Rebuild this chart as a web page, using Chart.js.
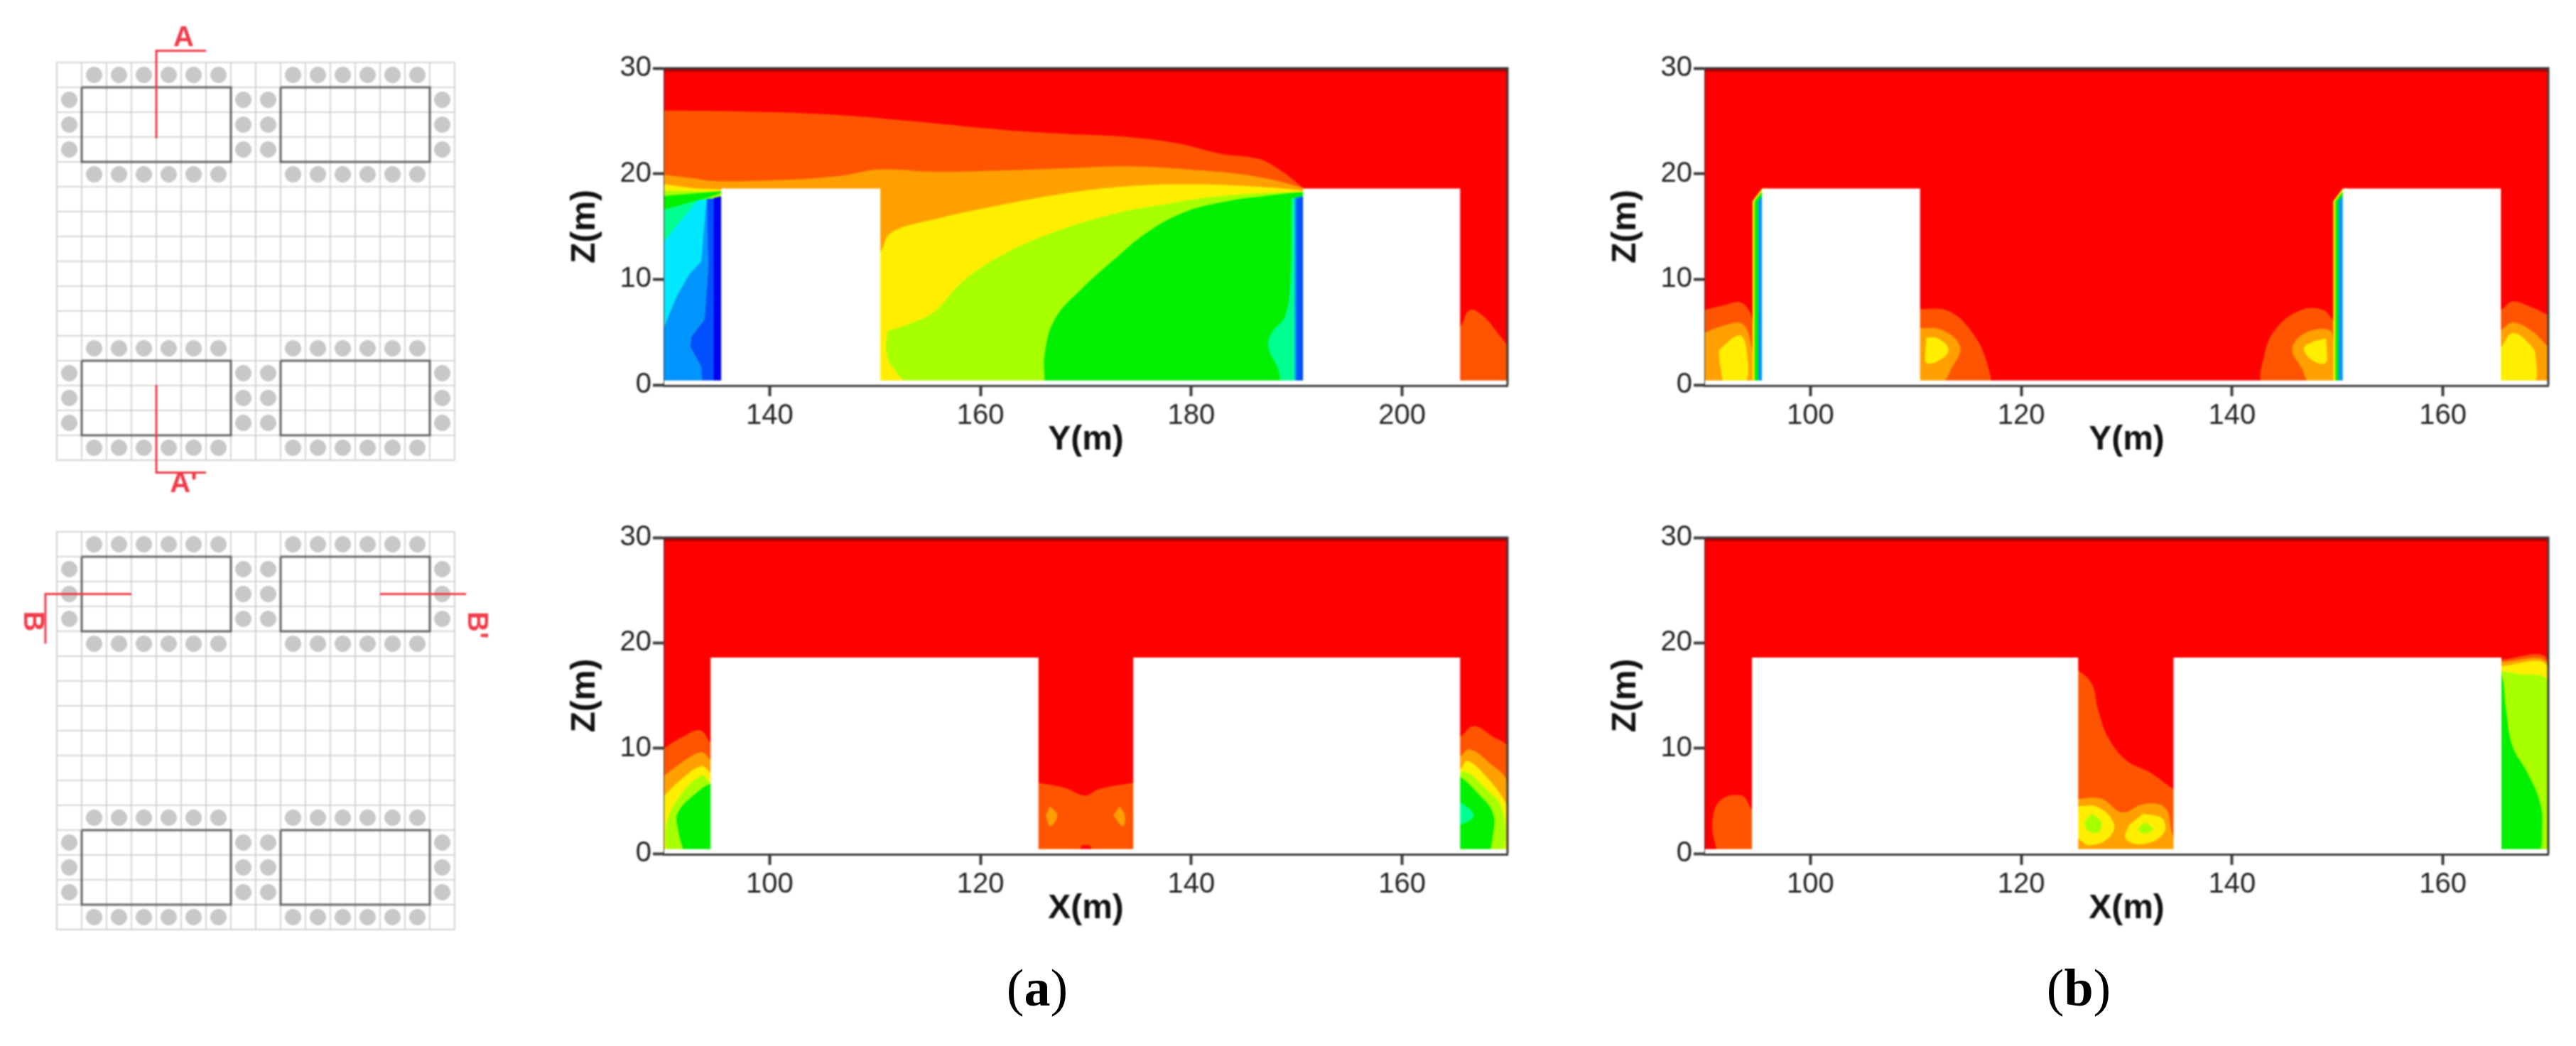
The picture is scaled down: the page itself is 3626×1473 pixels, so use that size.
<!DOCTYPE html>
<html>
<head>
<meta charset="utf-8">
<title>Section contours</title>
<script src="https://cdn.jsdelivr.net/npm/chart.js@4"></script>
<style>
  html, body { margin: 0; padding: 0; background: #fff; }
  body { position: relative; width: 3626px; height: 1473px; overflow: hidden; }
  canvas { position: absolute; filter: blur(1.1px); }
  .caption { position: absolute; top: 1349px; font: 74px "Liberation Serif", serif; color: #000; transform: translateX(-50%); filter: blur(0.6px); }
</style>
</head>
<body>
<canvas id="planA"></canvas>
<canvas id="planB"></canvas>
<canvas id="yA"></canvas>
<canvas id="yB"></canvas>
<canvas id="xA"></canvas>
<canvas id="xB"></canvas>
<div class="caption" style="left:1460px">(<b>a</b>)</div>
<div class="caption" style="left:2926px">(<b>b</b>)</div>
<script>
// contour colours, coolest to hottest
const DEEP = '#0000f0', BLUE = '#0050ff', SKY = '#0095ff', CYAN = '#00e8ff', MINT = '#00ff90';
const GREEN = '#00f000', LIME = '#a8ff00', YELLOW = '#ffee00', AMBER = '#ffa000', ORANGE = '#ff5500';
const RED = '#ff0000', DARKRED = '#b40000', WHITE = '#ffffff';

const ticksY = [140, 160, 180, 200];
const ticksX = [100, 120, 140, 160];
const ticksZ = [0, 10, 20, 30];

// ---- top left panel, Y section, values read as [y, z]
const yaOrange = [[130, 26], [137.6, 25.9], [146.1, 25.6], [153.3, 25], [161.7, 24.2], [167.7, 23.8], [173.8, 23.5], [178.6, 22.9], [182.8, 21.9], [186.4, 21.4], [188.5, 20.3], [189.7, 19.4], [190.5, 18.7], [190.8, 18.4], [191, 18], [191, 0], [130, 0]];
const yaAmber = [[130, 19.9], [132.5, 19.6], [134.6, 19.3], [140.7, 19.4], [146.7, 19.8], [150.3, 20.4], [155.7, 20.2], [161.7, 20.3], [167.7, 20.5], [173.8, 20.7], [179.8, 20.4], [185.8, 19.8], [190.5, 18.7], [190.8, 18.4], [191, 18], [191, 0], [130, 0]];
const yaYellowL = [[130, 19], [133, 18.6], [136, 18.5], [136, 0], [130, 0]];
const yaYellow = [[150, 12.6], [150.5, 12.6], [151.5, 14.4], [155.7, 15.7], [161.7, 17], [167.7, 18.1], [173.8, 18.8], [179.8, 19], [185.8, 18.8], [190.5, 18.4], [190.8, 18.2], [191, 17.8], [191, 0], [150, 0]];
const yaLimeL = [[130, 18.4], [136, 18.3], [136, 0], [130, 0]];
const yaLime = [[151.2, 5.1], [153.3, 5.8], [155.7, 7], [158.1, 9.6], [161.7, 12.1], [166.5, 14.3], [172.6, 16.2], [176.8, 17], [182.8, 17.9], [190.5, 18.3], [190.8, 18.2], [191, 17.8], [191, 0.2], [153.6, 0.2], [151.5, 1.9], [151, 3.6]];
const yaGreenL = [[130, 17.9], [136, 18.4], [134.2, 17.76], [130, 16.6]];
const yaGreen = [[166.1, 0], [166.1, 3], [167.1, 6.3], [169.6, 9.1], [172.6, 11.8], [175.6, 14.3], [179.2, 16.3], [183.4, 17.4], [187, 17.9], [190.5, 18.25], [190.8, 18.1], [191, 17.7], [191, 0]];
const yaMintL = [[130, 16.6], [133.2, 17.5], [134.4, 17.7], [134, 10], [130, 10], [130, 13.6]];
const yaCyanL = [[130, 13.6], [133.2, 17.5], [134.05, 17.5], [133.7, 14], [133.5, 11.7], [132.4, 10.5], [131.2, 8.4], [130, 5.5]];
const yaSkyL = [[130, 5.5], [131.2, 8.4], [132.4, 10.5], [133.5, 11.7], [133.7, 14], [134.05, 17.6], [134.4, 17.6], [134.2, 11.4], [133.8, 6.2], [132.6, 4.6], [132.5, 3.6], [133.5, 1.7], [133.7, 0], [130, 0]];
const yaBlueL = [[134.05, 17.6], [134.8, 17.6], [134.8, 0], [133.7, 0], [133.5, 1.7], [132.5, 3.6], [132.6, 4.6], [133.8, 6.2], [134.2, 11.4]];
const yaDeepL = [[134.7, 17.7], [136, 18], [136, 0], [134.7, 0]];
const yaMintR = [[189.5, 17.7], [189.4, 10], [188.9, 6.5], [187.6, 4.9], [187.3, 3.6], [188.2, 1.6], [188.8, 0], [191, 0], [191, 17.7]];
const yaSkyR = [[189.8, 17.7], [191, 18], [191, 0], [189.8, 0]];
const yaBlueR = [[190, 17.6], [191, 18], [191, 0], [190, 0]];
const yaBuildings = [[[135.4, 18.6], [150.5, 18.6], [150.5, 0], [135.4, 0]], [[190.6, 18.6], [205.5, 18.6], [205.5, 0], [190.6, 0]]];
const yaLobe = [[205, 5.5], [205.5, 5.5], [206.4, 7.1], [207.6, 6.6], [209, 5], [210, 3.4], [210, 0], [205, 0]];

// ---- top right panel, Y section
const ybWallYellow = [[[94.5, 17.4], [95.4, 18.6], [96, 18.6], [96, 0], [94.5, 0]], [[149.6, 17.4], [150.5, 18.6], [151, 18.6], [151, 0], [149.6, 0]]];
const ybWallGreen = [[[94.7, 17.4], [95.4, 18.3], [96, 18.3], [96, 0], [94.7, 0]], [[149.8, 17.4], [150.5, 18.3], [151, 18.3], [151, 0], [149.8, 0]]];
const ybWallSky = [[[95.05, 17.4], [95.4, 17.9], [96, 17.9], [96, 0], [95.05, 0]], [[150.1, 17.4], [150.5, 17.9], [151, 17.9], [151, 0], [150.1, 0]]];
const ybOrange = [
  [[90, 7.1], [91.6, 7.5], [93.5, 7.75], [94.5, 6], [94.6, 0], [90, 0]],
  [[110, 7.2], [110.4, 7.2], [113.1, 7], [115.4, 4.9], [116.8, 1.9], [116.8, 0], [110, 0]],
  [[149.7, 6], [148.6, 7.1], [146.6, 7.1], [144.3, 5.5], [143.1, 3], [143.1, 0], [149.7, 0]],
  [[165, 7.1], [165.5, 7.1], [166.6, 7.9], [168.3, 7.4], [169.8, 6.7], [170, 6.5], [170, 0], [165, 0]]
];
const ybAmber = [
  [[90, 4.95], [91.7, 5.6], [93.5, 5.8], [94.3, 4.1], [94.6, 0], [90, 0]],
  [[110, 5.4], [110.4, 5.4], [112.5, 5.2], [114.2, 3.6], [113.4, 1.6], [112.3, 0], [110, 0]],
  [[149.7, 4], [149.2, 5.2], [146.9, 4.9], [145.7, 3.4], [146.6, 1.6], [147.5, 0], [149.7, 0]],
  [[165, 5.2], [165.5, 5.2], [166.6, 5.9], [168.3, 5.2], [169.8, 3.8], [170, 3.5], [170, 0], [165, 0]]
];
const ybYellow = [
  [[91.3, 3.3], [93.2, 4.7], [93.9, 3.6], [93.8, 0], [92, 0], [91.4, 1.9]],
  [[111, 4.5], [112.1, 4.4], [113.1, 3.3], [112, 2.2], [111, 2.1], [110.9, 3.3]],
  [[148.9, 4.4], [147.5, 4], [146.8, 3.4], [147.8, 2.2], [148.9, 2.1], [149, 3.3]],
  [[165, 3.6], [165.5, 3.6], [166.6, 4.9], [168.3, 3.8], [168.8, 2.7], [168.5, 0], [165, 0]]
];
const ybBuildings = [[[95.4, 18.6], [110.4, 18.6], [110.4, 0], [95.4, 0]], [[150.5, 18.6], [165.5, 18.6], [165.5, 0], [150.5, 0]]];

// ---- bottom left panel, X section, values read as [x, z]
const xaOrange = [
  [[90, 10], [91.6, 11], [93.4, 11.7], [94.4, 10.5], [95, 10], [95, 0], [90, 0]],
  [[165, 11.1], [165.5, 11.1], [166.8, 12.1], [168.6, 11.1], [170, 10], [170, 0], [165, 0]],
  [[125, 6.7], [125.5, 6.7], [128.1, 6.2], [129.9, 5.5], [131.2, 6.1], [134.5, 6.7], [135, 6.7], [135, 0], [125, 0]]
];
const xaAmber = [
  [[90, 7.4], [91.6, 8.6], [93.5, 9.6], [94.4, 8.9], [95, 8.5], [95, 0], [90, 0]],
  [[165, 9.25], [165.5, 9.25], [166.4, 9.9], [168.3, 8.6], [170, 6.7], [170, 0], [165, 0]],
  [[126.6, 4.5], [127.3, 3.6], [126.6, 2.6], [126.2, 3.6]],
  [[133.2, 4.5], [133.7, 3.6], [133.5, 2.6], [132.6, 3.6]]
];
const xaYellow = [
  [[90, 5.5], [91.6, 7.05], [93.5, 8.3], [94.4, 7.7], [95, 7.3], [95, 0], [90, 0]],
  [[165, 8], [165.5, 8], [166.2, 8.8], [167.9, 7.4], [169.8, 4.9], [170, 4], [170, 0], [165, 0]]
];
const xaLime = [
  [[90.2, 0], [90.2, 2.7], [91.3, 5.2], [93.5, 7.4], [94.4, 6.7], [95, 6.3], [95, 0]],
  [[165, 7.05], [165.9, 7.8], [167.7, 6.4], [169.5, 4.2], [169.5, 0], [165, 0]]
];
const xaGreen = [
  [[91.9, 0], [91.3, 2.35], [91.3, 3.9], [93.1, 5.8], [94.4, 6.6], [95, 6.4], [95, 0]],
  [[165, 7.2], [165.6, 7.2], [167.1, 5.8], [168.6, 3.9], [168.6, 1.7], [168, 0], [165, 0]]
];
const xaMint = [[165, 4.9], [165.5, 4.9], [166.8, 3.6], [165.5, 2.7], [165, 2.7]];
const xaSpot = [[129.3, 0], [129.6, 0.8], [130.4, 0.8], [130.7, 0]];
const xaBuildings = [[[94.4, 18.6], [125.5, 18.6], [125.5, 0], [94.4, 0]], [[134.5, 18.6], [165.5, 18.6], [165.5, 0], [134.5, 0]]];

// ---- bottom right panel, X section
const xbOrange = [
  [[91.2, 0], [90.7, 2.7], [91.4, 5], [93.5, 5.5], [94.45, 4.2], [95, 4], [95, 0]],
  [[125, 17.4], [125.4, 17.4], [126.7, 16.1], [127.3, 13.6], [128.2, 11.1], [129.9, 8.9], [132.2, 7.7], [134.45, 6.1], [135, 5.8], [135, 0], [125, 0]],
  [[165, 18.4], [170, 18.2], [170, 0], [165, 0]]
];
const xbAmber = [
  [[125, 5.2], [125.4, 5.2], [127.6, 5.2], [129.6, 3.9], [131.6, 4.7], [133.6, 4.4], [134.2, 2.35], [134.45, 0], [125, 0]],
  [[165, 18.2], [170, 17.8], [170, 0], [165, 0]]
];
const xbYellow = [
  [[125, 4.5], [125.4, 4.5], [127.3, 4.4], [128.8, 2.8], [128.2, 1.4], [126.4, 0.8], [125.4, 1.4], [125, 1.4]],
  [[131.6, 3.8], [133.4, 3.3], [133.5, 1.9], [131.6, 0.9], [129.9, 1.4], [130.2, 2.7]],
  [[165, 17.8], [170, 17.55], [170, 0], [165, 0]]
];
const xbLime = [
  [[126.7, 3.8], [127.6, 3], [127.3, 2], [126.3, 2.2], [126, 3]],
  [[131.7, 3], [132.5, 2.35], [131.6, 1.9], [131, 2.35]],
  [[165, 17.4], [166.8, 17.1], [170, 16.2], [170, 0], [165, 0]]
];
const xbGreen = [[165, 17.1], [165.55, 17.1], [166, 13.6], [166.6, 10.2], [168, 7.7], [169.2, 4.9], [169.4, 2.35], [168.9, 0], [165, 0]];
const xbBuildings = [[[94.45, 18.6], [125.4, 18.6], [125.4, 0], [94.45, 0]], [[134.45, 18.6], [165.55, 18.6], [165.55, 0], [134.45, 0]]];

// ---- plan view, in grid cells
const planCells = 16;
const pillarRowX = [1.5, 2.5, 3.5, 4.5, 5.5, 6.5, 9.5, 10.5, 11.5, 12.5, 13.5, 14.5];
const pillarRowY = [0.5, 4.5, 11.5, 15.5];
const pillarColX = [0.5, 7.5, 8.5, 15.5];
const pillarColY = [1.5, 2.5, 3.5, 12.5, 13.5, 14.5];
const blocks = [
  [[1, 1], [7, 1], [7, 4], [1, 4], [1, 1]],
  [[9, 1], [15, 1], [15, 4], [9, 4], [9, 1]],
  [[1, 12], [7, 12], [7, 15], [1, 15], [1, 12]],
  [[9, 12], [15, 12], [15, 15], [9, 15], [9, 12]]
];
const cutA = [[[6, -0.47], [4, -0.47], [4, 3.05]], [[4, 12.97], [4, 16.5], [6, 16.5]]];
const cutB = [[[3, 2.5], [-0.46, 2.5], [-0.46, 4.5]], [[13, 2.5], [16.46, 2.5], [16.46, 4.5]]];
const labelsA = [['A', 5.1, -0.98, 0], ["A'", 5.1, 16.98, 0]];
const labelsB = [['B', -1, 3.6, 90], ["B'", 16.87, 3.75, 90]];

const pillars = [];
pillarRowY.forEach(y => pillarRowX.forEach(x => pillars.push({x, y})));
pillarColY.forEach(y => pillarColX.forEach(x => pillars.push({x, y})));

Chart.defaults.font.family = '"Liberation Sans", Arial, sans-serif';
Chart.defaults.animation = false;

const AXIS = '#3a3a3a';
const MARGIN = {left: 170, top: 40, right: 38, bottom: 120};

// top and right edges of the contour box
const framePlugin = {
    id: 'framePlugin',
    afterDraw(chart) {
        const {ctx, chartArea: {top, bottom, left, right}} = chart;
        ctx.save();
        ctx.strokeStyle = AXIS;
        ctx.lineWidth = 3;
        ctx.beginPath();
        ctx.moveTo(left, top);
        ctx.lineTo(right, top);
        ctx.lineTo(right, bottom);
        ctx.stroke();
        ctx.restore();
    }
};

// red section marks next to the plan
const sectionLabelPlugin = {
    id: 'sectionLabelPlugin',
    afterDraw(chart, args, opts) {
        const {ctx, scales: {x, y}} = chart;
        ctx.save();
        ctx.fillStyle = '#f03a48';
        ctx.font = 'bold 40px "Liberation Sans Narrow", "Liberation Sans", sans-serif';
        ctx.textAlign = 'center';
        ctx.textBaseline = 'middle';
        opts.labels.forEach(([text, vx, vy, rot]) => {
            ctx.save();
            ctx.translate(x.getPixelForValue(vx), y.getPixelForValue(vy));
            ctx.rotate(rot * Math.PI / 180);
            ctx.fillText(text, 0, 0);
            ctx.restore();
        });
        ctx.restore();
    }
};

function layer(poly, color, tension = 0.4) {
    return {
        data: poly,
        showLine: true,
        fill: 'shape',
        backgroundColor: color,
        borderWidth: 0,
        pointRadius: 0,
        tension
    };
}

function many(polys, color, tension) {
    return polys.map(p => layer(p, color, tension));
}

function contourChart(id, box, xMin, xMax, xTicks, xTitle, layers) {
    const canvas = document.getElementById(id);
    canvas.width = box.right - box.left + MARGIN.left + MARGIN.right;
    canvas.height = box.bottom - box.top + MARGIN.top + MARGIN.bottom;
    canvas.style.left = (box.left - MARGIN.left) + 'px';
    canvas.style.top = (box.top - MARGIN.top) + 'px';

    const sheet = [[xMin, 0], [xMax, 0], [xMax, 30], [xMin, 30]];
    const roofBand = [[xMin, 29.65], [xMax, 29.65], [xMax, 30], [xMin, 30]];
    const floorBand = [[xMin, 0], [xMax, 0], [xMax, 0.42], [xMin, 0.42]];
    const all = [layer(sheet, RED, 0), layer(roofBand, DARKRED, 0), ...layers, layer(floorBand, WHITE, 0)];
    all.forEach((ds, i) => { ds.order = all.length - i; });

    return new Chart(canvas, {
        type: 'scatter',
        data: {datasets: all},
        options: {
            responsive: false,
            devicePixelRatio: 1,
            layout: {padding: {top: MARGIN.top, right: MARGIN.right}},
            plugins: {legend: {display: false}, tooltip: {enabled: false}},
            scales: {
                x: {
                    min: xMin,
                    max: xMax,
                    afterFit: s => { s.height = MARGIN.bottom; },
                    afterBuildTicks: s => { s.ticks = xTicks.map(value => ({value})); },
                    border: {color: AXIS, width: 5},
                    grid: {drawOnChartArea: false, tickLength: 16, tickWidth: 4, tickColor: AXIS},
                    ticks: {color: '#222', font: {size: 40}, padding: 4, maxRotation: 0, autoSkip: false},
                    title: {display: true, text: xTitle, color: '#111', font: {size: 48, weight: 'bold'}, padding: {top: 0, bottom: 13}}
                },
                y: {
                    min: 0,
                    max: 30,
                    afterFit: s => { s.width = MARGIN.left; },
                    afterBuildTicks: s => { s.ticks = ticksZ.map(value => ({value})); },
                    border: {color: AXIS, width: 3},
                    grid: {drawOnChartArea: false, tickLength: 16, tickWidth: 4, tickColor: AXIS},
                    ticks: {color: '#222', font: {size: 40}, padding: 2},
                    title: {display: true, text: 'Z(m)', color: '#111', font: {size: 48, weight: 'bold'}, padding: {top: 30, bottom: 0}}
                }
            }
        },
        plugins: [framePlugin]
    });
}

function planChart(id, top, height, cuts, labels) {
    const pad = 80;
    const canvas = document.getElementById(id);
    canvas.width = 560 + pad * 2;
    canvas.height = height + pad * 2;
    canvas.style.left = (80 - pad) + 'px';
    canvas.style.top = (top - pad) + 'px';

    const grid = {color: '#cfcfcf', lineWidth: 1.8, drawTicks: false};
    const datasets = [
        ...cuts.map(c => ({type: 'line', data: c, borderColor: '#f03a48', borderWidth: 3, pointRadius: 0, clip: false, fill: false, tension: 0})),
        ...blocks.map(b => ({type: 'line', data: b, borderColor: '#666', borderWidth: 3, pointRadius: 0, fill: false, tension: 0})),
        {type: 'scatter', data: pillars, pointRadius: 11, backgroundColor: '#c8c8c8', borderColor: '#bebebe', borderWidth: 1}
    ];

    return new Chart(canvas, {
        data: {datasets},
        options: {
            responsive: false,
            devicePixelRatio: 1,
            layout: {padding: pad},
            plugins: {legend: {display: false}, tooltip: {enabled: false}, sectionLabelPlugin: {labels}},
            scales: {
                x: {type: 'linear', min: 0, max: planCells, grid, border: {color: '#cfcfcf', width: 1.8}, ticks: {display: false, stepSize: 1}},
                y: {type: 'linear', min: 0, max: planCells, reverse: true, grid, border: {color: '#cfcfcf', width: 1.8}, ticks: {display: false, stepSize: 1}}
            }
        },
        plugins: [sectionLabelPlugin]
    });
}

planChart('planA', 88, 560, cutA, labelsA);
planChart('planB', 749, 560, cutB, labelsB);

contourChart('yA', {left: 935, right: 2122, top: 96, bottom: 542}, 130, 210, ticksY, 'Y(m)', [
    layer(yaOrange, ORANGE),
    layer(yaLobe, ORANGE),
    layer(yaAmber, AMBER),
    layer(yaYellowL, YELLOW, 0),
    layer(yaYellow, YELLOW),
    layer(yaLimeL, LIME, 0),
    layer(yaLime, LIME),
    layer(yaGreen, GREEN),
    layer(yaGreenL, GREEN, 0),
    layer(yaMintL, MINT, 0),
    layer(yaCyanL, CYAN, 0.1),
    layer(yaSkyL, SKY, 0.1),
    layer(yaBlueL, BLUE, 0.1),
    layer(yaDeepL, DEEP, 0),
    layer(yaMintR, MINT),
    layer(yaSkyR, SKY, 0),
    layer(yaBlueR, BLUE, 0),
    ...many(yaBuildings, WHITE, 0)
]);

contourChart('yB', {left: 2400, right: 3587, top: 96, bottom: 542}, 90, 170, ticksX, 'Y(m)', [
    ...many(ybOrange, ORANGE),
    ...many(ybAmber, AMBER),
    ...many(ybYellow, YELLOW),
    ...many(ybWallYellow, YELLOW, 0),
    ...many(ybWallGreen, GREEN, 0),
    ...many(ybWallSky, SKY, 0),
    ...many(ybBuildings, WHITE, 0)
]);

contourChart('xA', {left: 935, right: 2122, top: 757, bottom: 1202}, 90, 170, ticksX, 'X(m)', [
    ...many(xaOrange, ORANGE),
    ...many(xaAmber, AMBER),
    ...many(xaYellow, YELLOW),
    ...many(xaLime, LIME),
    ...many(xaGreen, GREEN),
    layer(xaMint, MINT),
    layer(xaSpot, RED, 0),
    ...many(xaBuildings, WHITE, 0)
]);

contourChart('xB', {left: 2400, right: 3587, top: 757, bottom: 1202}, 90, 170, ticksX, 'X(m)', [
    ...many(xbOrange, ORANGE),
    ...many(xbAmber, AMBER),
    ...many(xbYellow, YELLOW),
    ...many(xbLime, LIME),
    layer(xbGreen, GREEN),
    ...many(xbBuildings, WHITE, 0)
]);
</script>
</body>
</html>
